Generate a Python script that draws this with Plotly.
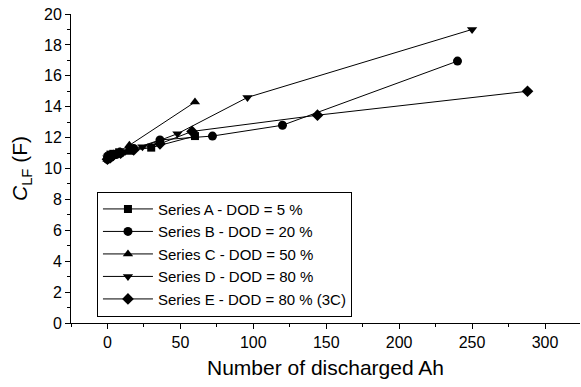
import plotly.graph_objects as go

# Data
a_x = [0, 0.5, 1, 2, 4, 8, 15, 30, 60]
a_y = [10.7, 10.75, 10.8, 10.9, 10.95, 11.05, 11.15, 11.35, 12.1]

b_x = [0, 1, 3, 6, 9, 18, 36, 72, 120, 240]
b_y = [10.6, 10.7, 10.8, 10.9, 11.0, 11.3, 11.85, 12.1, 12.8, 16.95]

c_x = [0, 2, 4, 8, 15, 60]
c_y = [10.6, 10.8, 10.9, 11.1, 11.5, 14.3]

d_x = [0, 3, 6, 12, 24, 48, 96, 250]
d_y = [10.7, 10.8, 10.9, 11.1, 11.4, 12.25, 14.6, 19.0]

e_x = [0, 2, 4, 9, 18, 36, 58, 144, 288]
e_y = [10.6, 10.7, 10.85, 11.0, 11.2, 11.6, 12.4, 13.45, 15.0]

names = ["Series A - DOD = 5 %", "Series B - DOD = 20 %", "Series C - DOD = 50 %",
         "Series D - DOD = 80 %", "Series E - DOD = 80 % (3C)"]
symbols = ["square", "circle", "triangle-up", "triangle-down", "diamond"]
sizes = [8, 9, 9, 9, 9]
series = [(a_x, a_y), (b_x, b_y), (c_x, c_y), (d_x, d_y), (e_x, e_y)]

fig = go.Figure()
for (xs, ys), nm, sym, sz in zip(series, names, symbols, sizes):
    fig.add_trace(go.Scatter(
        x=xs, y=ys, mode="lines+markers", name=nm,
        line=dict(color="black", width=1),
        marker=dict(symbol=sym, size=sz, color="black"),
    ))

font = "Liberation Sans, Arial, sans-serif"
fig.update_layout(
    width=581, height=387,
    margin=dict(l=71, r=1, t=14, b=64),
    paper_bgcolor="white", plot_bgcolor="white",
    font=dict(family=font, color="black", size=15),
    showlegend=True,
    legend=dict(x=0.051, y=0.425, xanchor="left", yanchor="top",
                bordercolor="black", borderwidth=1, bgcolor="white",
                font=dict(size=15), tracegroupgap=0, itemwidth=50),
    xaxis=dict(range=[-25, 324], showline=True, linecolor="black", linewidth=1,
               ticks="outside", ticklen=5, tickcolor="black", dtick=50, tick0=0,
               showgrid=False, zeroline=False,
               minor=dict(ticks="outside", ticklen=3, dtick=25, tick0=0, tickcolor="black", showgrid=False),
               title=dict(text="Number of discharged Ah", font=dict(size=21), standoff=10),
               tickfont=dict(size=16)),
    yaxis=dict(range=[0, 20], showline=True, linecolor="black", linewidth=1,
               ticks="outside", ticklen=5, tickcolor="black", dtick=2, tick0=0,
               showgrid=False, zeroline=False,
               minor=dict(ticks="outside", ticklen=3, dtick=1, tick0=0, tickcolor="black", showgrid=False),
               title=dict(text="<i>C</i><sub>LF</sub> (F)", font=dict(size=21), standoff=10),
               tickfont=dict(size=16)),
)

fig.write_html("out.html")
